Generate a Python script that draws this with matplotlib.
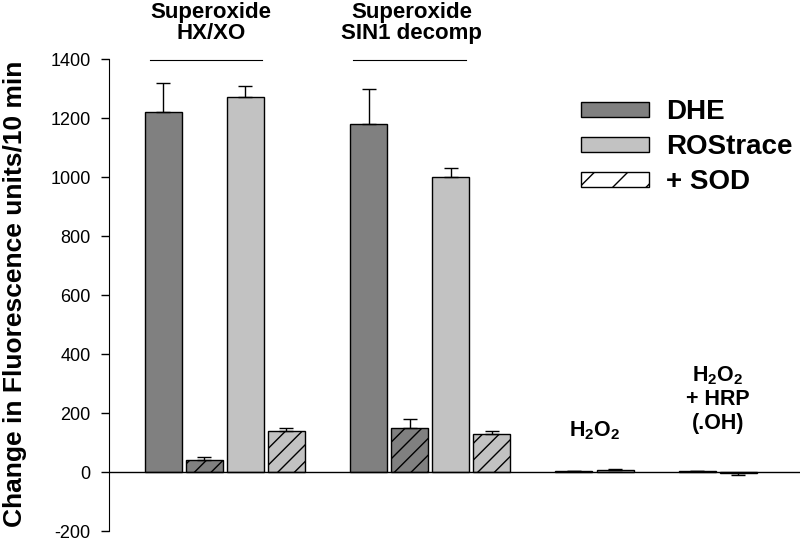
import matplotlib
matplotlib.use('Agg')
import matplotlib.pyplot as plt
from matplotlib.patches import Patch

plt.rcParams['font.family'] = ['Liberation Sans', 'DejaVu Sans']
plt.rcParams['mathtext.fontset'] = 'custom'
plt.rcParams['mathtext.bf'] = 'Liberation Sans:bold'
plt.rcParams['mathtext.rm'] = 'Liberation Sans:bold'
plt.rcParams['hatch.linewidth'] = 1.0
plt.rcParams['axes.unicode_minus'] = False

# bar slots: 4 per superoxide group, 2 per peroxide group
dhe_x = [0, 5, 10, 13]
dhe = [1220, 1180, 3, 3]
dhe_err = [100, 120, 2, 2]

dhe_sod_x = [1, 6]
dhe_sod = [40, 150]
dhe_sod_err = [10, 30]

ros_x = [2, 7, 11, 14]
ros = [1270, 1000, 7, -5]
ros_err = [40, 30, 3, 5]

ros_sod_x = [3, 8]
ros_sod = [140, 130]
ros_sod_err = [10, 8]

dark = '#808080'
light = '#c2c2c2'
w = 0.9

fig = plt.figure(figsize=(8, 5.39), dpi=100)
ax = fig.add_axes([0.136, 0.0148, 0.864, 0.8757])

def bars(x, y, err, color, hatch=None):
    ax.bar(x, y, width=w, color=color, edgecolor='black', linewidth=1, hatch=hatch, zorder=2)
    lo = [0 if v >= 0 else e for v, e in zip(y, err)]
    hi = [e if v >= 0 else 0 for v, e in zip(y, err)]
    ax.errorbar(x, y, yerr=[lo, hi], fmt='none', ecolor='black', elinewidth=1,
                capsize=5, capthick=1, zorder=3)

bars(dhe_x, dhe, dhe_err, dark)
bars(dhe_sod_x, dhe_sod, dhe_sod_err, dark, '//')
bars(ros_x, ros, ros_err, light)
bars(ros_sod_x, ros_sod, ros_sod_err, light, '//')

ax.axhline(0, color='black', lw=1, zorder=4)
ax.set_xlim(-1.32, 15.5)
ax.set_ylim(-200, 1400)
ax.set_yticks(range(-200, 1401, 200))
ax.tick_params(axis='y', labelsize=13, direction='out', length=6, width=1, pad=7)
ax.set_xticks([])
for s in ['top', 'right', 'bottom']:
    ax.spines[s].set_visible(False)

# group labels
ax.text(1.17, 1522, 'Superoxide\nHX/XO', ha='center', va='center', fontsize=16,
        fontweight='bold', clip_on=False, linespacing=1.05)
ax.plot([-0.32, 2.41], [1397, 1397], color='black', lw=0.8, clip_on=False)
ax.text(6.05, 1522, 'Superoxide\nSIN1 decomp', ha='center', va='center', fontsize=16,
        fontweight='bold', clip_on=False, linespacing=1.05)
ax.plot([4.63, 7.37], [1397, 1397], color='black', lw=0.8, clip_on=False)
ax.text(10.5, 140, r'$\mathbf{H_2O_2}$', ha='center', va='center', fontsize=15.5)
ax.text(13.5, 248, '$\\mathbf{H_2O_2}$\n+ HRP\n(.OH)', ha='center', va='center',
        fontsize=15.5, fontweight='bold', linespacing=1.15)

fig.text(0.019, 0.455, 'Change in Fluorescence units/10 min', rotation=90,
         ha='center', va='center', fontsize=19, fontweight='bold')

handles = [Patch(facecolor=dark, edgecolor='black', label='DHE'),
           Patch(facecolor=light, edgecolor='black', label='ROStrace'),
           Patch(facecolor='white', edgecolor='black', hatch='/', label='+ SOD')]
leg = ax.legend(handles=handles, loc='upper left', bbox_to_anchor=(0.695, 0.862),
                bbox_transform=fig.transFigure, frameon=False,
                prop={'size': 20, 'weight': 'bold'}, handlelength=2.45,
                handleheight=0.45, labelspacing=0.32, handletextpad=0.6)

fig.savefig('out.png', dpi=100)
